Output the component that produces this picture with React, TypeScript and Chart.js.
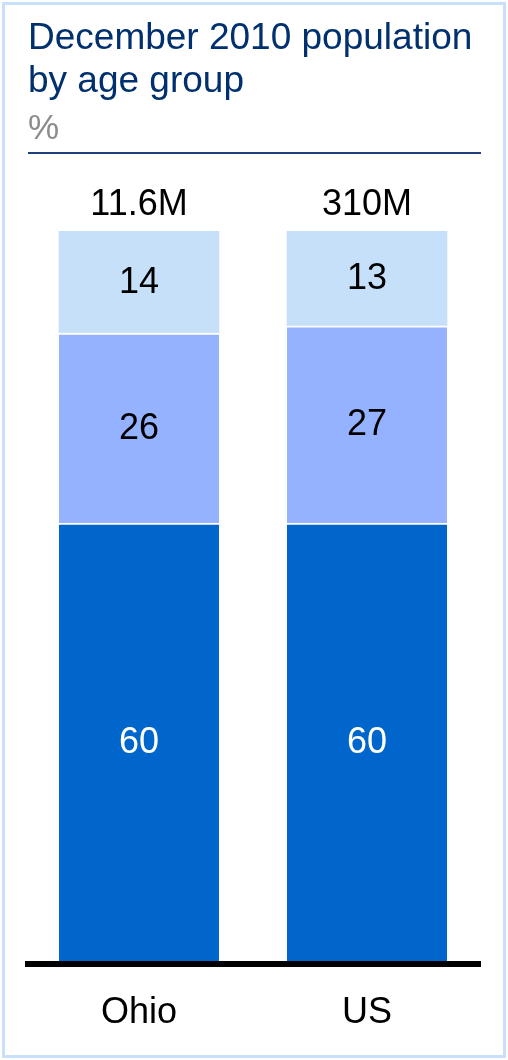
import React, { useEffect, useRef } from "react";
import { Chart, registerables } from "chart.js";

Chart.register(...registerables);

// ---- data ----
const categories: string[] = ["Ohio", "US"];
const totalLabels: string[] = ["11.6M", "310M"];
const bottomSegment: number[] = [60, 60];
const middleSegment: number[] = [26, 27];
const topSegment: number[] = [14, 13];

const titleLines: string[] = ["December 2010 population", "by age group"];
const unitLabel = "%";

// ---- styles ----
const FONT = "Arial, 'Liberation Sans', sans-serif";
const DARK = "#0066CC";
const MID = "#94B2FF";
const LIGHT = "#C6E0FA";
const NAVY = "#00306E";
const CANVAS_W = 508;
const CANVAS_H = 1065;

const labelsPlugin = {
  id: "segmentLabels",
  afterDatasetsDraw(chart: any) {
    const ctx = chart.ctx as CanvasRenderingContext2D;
    const area = chart.chartArea;
    ctx.save();
    // baseline
    ctx.fillStyle = "#000000";
    ctx.fillRect(area.left, area.bottom, area.right - area.left, 6);
    ctx.font = `36px ${FONT}`;
    ctx.textAlign = "center";
    chart.data.datasets.forEach((ds: any, di: number) => {
      const meta = chart.getDatasetMeta(di);
      meta.data.forEach((bar: any, i: number) => {
        const v = ds.data[i];
        const cy = (bar.y + bar.base) / 2;
        ctx.fillStyle = di === 0 ? "#FFFFFF" : "#000000";
        ctx.textBaseline = "middle";
        ctx.fillText(String(v), bar.x, cy + 1);
      });
    });
    // totals above stacks
    const lastMeta = chart.getDatasetMeta(chart.data.datasets.length - 1);
    lastMeta.data.forEach((bar: any, i: number) => {
      ctx.fillStyle = "#000000";
      ctx.textBaseline = "alphabetic";
      ctx.fillText(totalLabels[i], bar.x, bar.y - 16);
    });
    ctx.restore();
  },
};

export default function App() {
  const canvasRef = useRef<HTMLCanvasElement | null>(null);

  useEffect(() => {
    if (!canvasRef.current) return;
    const chart = new Chart(canvasRef.current, {
      type: "bar",
      data: {
        labels: categories,
        datasets: [
          {
            label: "Bottom segment",
            data: bottomSegment,
            backgroundColor: DARK,
            borderColor: "#FFFFFF",
            borderWidth: { top: 2, right: 0, bottom: 0, left: 0 },
            borderSkipped: false,
            barThickness: 160,
          },
          {
            label: "Middle segment",
            data: middleSegment,
            backgroundColor: MID,
            borderColor: "#FFFFFF",
            borderWidth: { top: 2, right: 0, bottom: 0, left: 0 },
            borderSkipped: false,
            barThickness: 160,
          },
          {
            label: "Top segment",
            data: topSegment,
            backgroundColor: LIGHT,
            borderWidth: 0,
            barThickness: 160,
          },
        ],
      },
      options: {
        responsive: false,
        animation: false,
        devicePixelRatio: 1,
        layout: { padding: { top: 231, left: 25, right: 27, bottom: 0 } },
        plugins: {
          legend: { display: false },
          tooltip: { enabled: false },
          title: { display: false },
        },
        scales: {
          x: {
            stacked: true,
            grid: { display: false, drawTicks: false },
            border: { display: false },
            ticks: {
              color: "#000000",
              padding: 34,
              font: { family: FONT, size: 36, lineHeight: 1 },
            },
          },
          y: {
            stacked: true,
            display: false,
            min: 0,
            max: 100,
          },
        },
      },
      plugins: [labelsPlugin],
    } as any);
    return () => chart.destroy();
  }, []);

  return (
    <div
      style={{
        position: "fixed",
        left: 0,
        top: 0,
        width: 508,
        height: 1060,
        background: "#FFFFFF",
        overflow: "hidden",
      }}
    >
      <canvas
        ref={canvasRef}
        width={CANVAS_W}
        height={CANVAS_H}
        style={{ position: "absolute", left: 0, top: 0, width: CANVAS_W, height: CANVAS_H }}
      />
      <div
        style={{
          position: "absolute",
          left: 2,
          top: 2,
          width: 504,
          height: 1056,
          boxSizing: "border-box",
          border: "3px solid #C8E0FA",
          pointerEvents: "none",
        }}
      />
      <div
        style={{
          position: "absolute",
          left: 28,
          top: 15,
          fontFamily: FONT,
          fontSize: 37,
          lineHeight: "43px",
          color: NAVY,
          whiteSpace: "nowrap",
        }}
      >
        {titleLines.map((t, i) => (
          <div key={i}>{t}</div>
        ))}
      </div>
      <div
        style={{
          position: "absolute",
          left: 28,
          top: 108,
          fontFamily: FONT,
          fontSize: 35,
          lineHeight: "37px",
          color: "#8C8C8C",
        }}
      >
        {unitLabel}
      </div>
      <div
        style={{
          position: "absolute",
          left: 28,
          top: 152,
          width: 453,
          height: 2,
          background: "#1F3F78",
        }}
      />
    </div>
  );
}
